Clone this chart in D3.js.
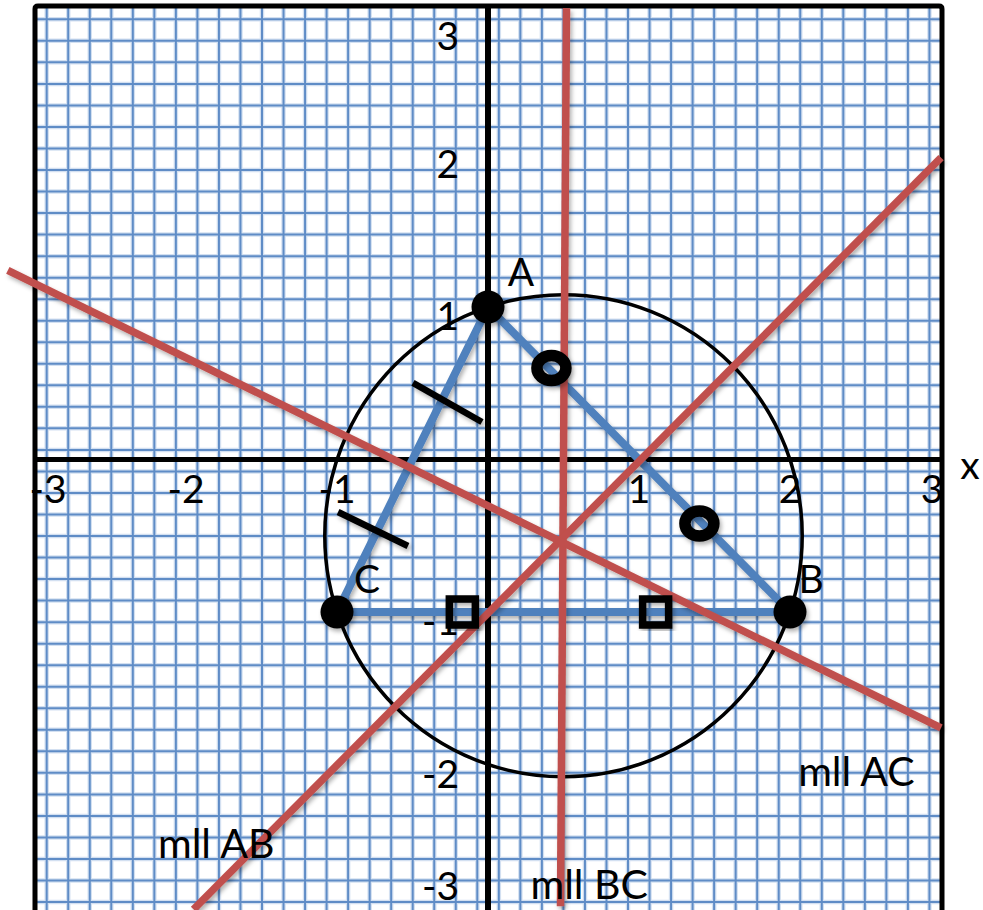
<!DOCTYPE html>
<html>
<head>
<meta charset="utf-8">
<script src="https://cdn.jsdelivr.net/npm/d3@7/dist/d3.min.js"></script>
<style>
  html, body { margin: 0; padding: 0; background: #fff; }
  svg { display: block; }
  text { font-family: Lato, "Open Sans", sans-serif; fill: #000; }
</style>
</head>
<body>
<div id="chart"></div>
<script>
// triangle vertices
var vertices = [
  {name: "A", x: 0, y: 1},
  {name: "B", x: 2, y: -1},
  {name: "C", x: -1, y: -1}
]
// circumcircle (centre 0.5,-0.5  r = sqrt(2.5))
var circleCenter = [0.5, -0.5]
var circleRadius = 1.581

// perpendicular bisectors as drawn
var bisectorNames = ["mll BC", "mll AB", "mll AC"]
var bisectorLines = [
  [[0.52, 2.96], [0.48, -2.93]],
  [[-1.95, -2.95], [3.0, 1.98]],
  [[-3.18, 1.24], [3.0, -1.76]]
]
var bisectorLabelPos = [[0.67, -2.78], [-1.80, -2.51], [2.44, -2.04]]

// congruence marks
var ringMarks = [[0.42, 0.60], [1.40, -0.42]]
var squareMarks = [[-0.17, -1], [1.11, -1]]
var hashMarks = [
  [[-0.497, 0.502], [-0.04, 0.246]],
  [[-0.993, -0.344], [-0.53, -0.567]]
]

var xTicks = [-3, -2, -1, 1, 2, 3]
var yTicks = [3, 2, 1, -1, -2, -3]

var W = 983, H = 910

var x = d3.scaleLinear().domain([-3, 3]).range([35, 941])
var y = d3.scaleLinear().domain([-3, 3]).range([917, 2])

var svg = d3.select("#chart").append("svg")
    .attr("width", W)
    .attr("height", H)

var defs = svg.append("defs")
var shadow = defs.append("filter").attr("id", "shadow")
    .attr("x", "-20%").attr("y", "-20%").attr("width", "140%").attr("height", "140%")
shadow.append("feDropShadow")
    .attr("dx", 2).attr("dy", 3).attr("stdDeviation", 2)
    .attr("flood-color", "#000").attr("flood-opacity", 0.3)

svg.append("rect").attr("width", W).attr("height", H).attr("fill", "#fff")

// graph paper background
var frameL = 35, frameR = 942, frameT = 6
var step = 21.53
var gx = d3.range(46.7, frameR - 4, step)
var gy = d3.range(19.3, H + 2, step)
var grid = svg.append("g").attr("class", "grid")
function gridLines(stroke, width) {
  grid.append("g").selectAll("line").data(gx).enter().append("line")
      .attr("x1", function(d) { return d; }).attr("x2", function(d) { return d; })
      .attr("y1", frameT).attr("y2", H)
      .attr("stroke", stroke).attr("stroke-width", width)
  grid.append("g").selectAll("line").data(gy).enter().append("line")
      .attr("y1", function(d) { return d; }).attr("y2", function(d) { return d; })
      .attr("x1", frameL).attr("x2", frameR)
      .attr("stroke", stroke).attr("stroke-width", width)
}
gridLines("#d3e0f1", 4.5)
gridLines("#5f8cc6", 2)

// frame
svg.append("path")
    .attr("d", "M" + frameL + "," + (H + 5) + " L" + frameL + "," + (frameT + 3) +
      " Q" + frameL + "," + frameT + " " + (frameL + 3) + "," + frameT +
      " L" + (frameR - 3) + "," + frameT + " Q" + frameR + "," + frameT + " " + frameR + "," + (frameT + 3) +
      " L" + frameR + "," + (H + 5))
    .attr("fill", "none").attr("stroke", "#000").attr("stroke-width", 5)

// axes
svg.append("line")
    .attr("x1", frameL).attr("x2", frameR)
    .attr("y1", y(0)).attr("y2", y(0))
    .attr("stroke", "#000").attr("stroke-width", 5)
svg.append("line")
    .attr("x1", x(0)).attr("x2", x(0))
    .attr("y1", frameT).attr("y2", H + 5)
    .attr("stroke", "#000").attr("stroke-width", 6)

// tick labels
svg.append("g").selectAll("text").data(xTicks).enter().append("text")
    .attr("x", function(d) { return Math.max(48, Math.min(932, x(d))); })
    .attr("y", y(0) + 28)
    .attr("text-anchor", "middle")
    .attr("dominant-baseline", "central")
    .attr("font-size", 39)
    .text(function(d) { return d < 0 ? "-" + Math.abs(d) : d; })

svg.append("g").selectAll("text").data(yTicks).enter().append("text")
    .attr("x", x(0) - 29)
    .attr("y", function(d) { return Math.max(35, Math.min(885, y(d) + 8)); })
    .attr("text-anchor", "end")
    .attr("dominant-baseline", "central")
    .attr("font-size", 39)
    .text(function(d) { return d < 0 ? "-" + Math.abs(d) : d; })

svg.append("text")
    .attr("x", 970).attr("y", y(0) + 4)
    .attr("text-anchor", "middle").attr("dominant-baseline", "central")
    .attr("font-size", 39)
    .text("x")

// circumcircle
svg.append("ellipse")
    .attr("cx", x(circleCenter[0])).attr("cy", y(circleCenter[1]))
    .attr("rx", x(circleRadius) - x(0))
    .attr("ry", y(0) - y(circleRadius))
    .attr("fill", "none").attr("stroke", "#000").attr("stroke-width", 3.5)

var line = d3.line().x(function(d) { return x(d[0]); }).y(function(d) { return y(d[1]); })

// triangle
svg.append("path")
    .datum(vertices.map(function(v) { return [v.x, v.y]; }))
    .attr("d", function(d) { return line(d) + "Z"; })
    .attr("fill", "none").attr("stroke", "#4f81bd").attr("stroke-width", 8)
    .attr("stroke-linejoin", "miter")
    .attr("filter", "url(#shadow)")

// perpendicular bisectors
svg.append("g").attr("filter", "url(#shadow)")
    .selectAll("path").data(bisectorLines).enter().append("path")
    .attr("d", line)
    .attr("fill", "none").attr("stroke", "#c0504d").attr("stroke-width", 7.5)

// hash marks on AC
svg.append("g").attr("filter", "url(#shadow)")
    .selectAll("path").data(hashMarks).enter().append("path")
    .attr("d", line)
    .attr("stroke", "#000").attr("stroke-width", 6.5)

// ring marks on AB
svg.append("g").attr("filter", "url(#shadow)")
    .selectAll("ellipse").data(ringMarks).enter().append("ellipse")
    .attr("cx", function(d) { return x(d[0]); })
    .attr("cy", function(d) { return y(d[1]); })
    .attr("rx", 14.5).attr("ry", 12.5)
    .attr("fill", "none").attr("stroke", "#000").attr("stroke-width", 11.5)

// square marks on BC
svg.append("g").attr("filter", "url(#shadow)")
    .selectAll("rect").data(squareMarks).enter().append("rect")
    .attr("x", function(d) { return x(d[0]) - 13; })
    .attr("y", function(d) { return y(d[1]) - 13; })
    .attr("width", 26).attr("height", 26)
    .attr("fill", "none").attr("stroke", "#000").attr("stroke-width", 7.5)

// vertices
svg.append("g").attr("filter", "url(#shadow)")
    .selectAll("circle").data(vertices).enter().append("circle")
    .attr("cx", function(d) { return x(d.x); })
    .attr("cy", function(d) { return y(d.y); })
    .attr("r", 16.5)
    .attr("fill", "#000")

var vertexLabelOffset = {A: [33, -36], B: [21, -34], C: [30, -34]}
svg.append("g").selectAll("text").data(vertices).enter().append("text")
    .attr("x", function(d) { return x(d.x) + vertexLabelOffset[d.name][0]; })
    .attr("y", function(d) { return y(d.y) + vertexLabelOffset[d.name][1]; })
    .attr("text-anchor", "middle").attr("dominant-baseline", "central")
    .attr("font-size", 39)
    .text(function(d) { return d.name; })

// bisector labels
svg.append("g").selectAll("text").data(bisectorNames).enter().append("text")
    .attr("x", function(d, i) { return x(bisectorLabelPos[i][0]); })
    .attr("y", function(d, i) { return y(bisectorLabelPos[i][1]); })
    .attr("text-anchor", "middle").attr("dominant-baseline", "central")
    .attr("font-size", 41)
    .text(function(d) { return d; })
</script>
</body>
</html>
